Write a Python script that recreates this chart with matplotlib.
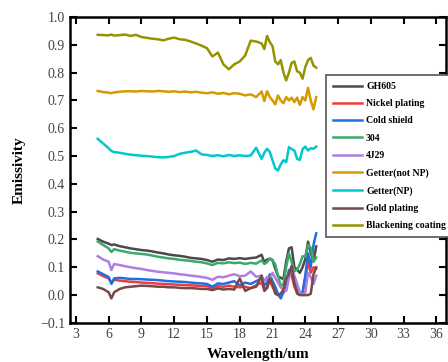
import matplotlib
matplotlib.use("Agg")
import matplotlib.pyplot as plt

# wavelength grid (um), denser where the spectra get noisy
wl = [5.0, 5.5, 6.0, 6.25, 6.5, 7.0, 7.5, 8.0, 8.5, 9.0, 9.5, 10.0, 10.5, 11.0,
      11.5, 12.0, 12.5, 13.0, 13.5, 14.0, 14.5, 15.0, 15.5, 16.0, 16.5, 17.0,
      17.5, 18.0, 18.5, 19.0, 19.5, 20.0, 20.25, 20.5, 20.75, 21.0, 21.25, 21.5,
      21.75, 22.0, 22.25, 22.5, 22.75, 23.0, 23.25, 23.5, 23.75, 24.0, 24.25,
      24.5, 24.75, 25.0]

gh605 = [.202, .192, .185, .180, .182, .176, .172, .168, .165, .162, .160, .157, .153, .150,
         .146, .143, .141, .138, .134, .132, .130, .126, .120, .128, .126, .132,
         .130, .133, .130, .133, .135, .145, .118, .128, .130, .126, .095, .068,
         .062, .058, .120, .168, .172, .100, .092, .080, .100, .130, .192,
         .150, .122, .175]
nickel = [.078, .068, .060, .045, .055, .052, .050, .048, .047, .045, .044, .043, .041, .040,
          .039, .038, .037, .036, .035, .034, .033, .032, .025, .032, .030, .034,
          .030, .028, .030, .025, .035, .045, .020, .030, .050, .030, .010, .000,
          .005, .010, .020, .080, .070, .030, .010, .002, .005, .060, .120,
          .080, .100, .095]
cold_shield = [.085, .075, .065, .040, .060, .062, .060, .058, .058, .057, .056, .055, .054, .052,
               .050, .049, .048, .047, .045, .043, .042, .040, .030, .042, .040, .045,
               .050, .035, .045, .040, .050, .060, .035, .045, .075, .050, .030, .005,
               -.012, .010, .040, .090, .085, .050, .020, .005, .010, .070, .150,
               .100, .180, .222]
ss304 = [.193, .180, .168, .155, .165, .160, .156, .152, .150, .148, .146, .142, .138, .135,
         .132, .130, .127, .125, .123, .120, .118, .114, .108, .116, .114, .118,
         .115, .117, .112, .116, .113, .125, .112, .118, .132, .126, .110, .070,
         .032, .040, .100, .150, .120, .085, .092, .110, .140, .138, .180,
         .170, .120, .135]
j29 = [.140, .128, .120, .090, .112, .108, .104, .100, .097, .094, .090, .087, .084, .082,
       .080, .078, .075, .073, .070, .068, .065, .062, .055, .066, .064, .070,
       .075, .068, .070, .085, .066, .070, .050, .065, .058, .080, .062, .045,
       .028, .020, .015, .060, .095, .070, .040, .010, .000, .010, .080,
       .065, .040, .070]
getter_not_np = [.734, .730, .728, .726, .729, .731, .733, .733, .732, .734, .733, .732, .734, .733,
                 .731, .733, .730, .732, .729, .731, .728, .726, .729, .724, .727, .722,
                 .726, .724, .718, .722, .712, .732, .698, .733, .712, .700, .686, .718,
                 .700, .690, .712, .700, .710, .694, .710, .684, .712, .700, .745,
                 .700, .668, .712]
getter_np = [.562, .545, .528, .518, .514, .512, .508, .505, .503, .501, .500, .498, .496, .495,
             .497, .500, .508, .512, .515, .520, .506, .504, .500, .503, .499, .504,
             .500, .503, .500, .502, .530, .490, .512, .526, .515, .485, .455, .448,
             .470, .485, .478, .532, .525, .520, .490, .486, .525, .534, .520,
             .528, .526, .534]
gold = [.028, .022, .010, -.012, .010, .022, .028, .030, .032, .034, .033, .032, .030, .030,
        .028, .028, .026, .025, .025, .024, .022, .022, .018, .024, .020, .022,
        .020, .060, .015, .025, .030, .070, .015, .025, .060, .040, .005, .000,
        .005, .020, .060, .075, .105, .040, .005, .000, .000, .000, .000,
        .005, .075, .100]
blackening = [.936, .935, .934, .937, .933, .935, .937, .932, .936, .928, .925, .922, .920, .916,
              .922, .926, .920, .918, .912, .905, .897, .888, .858, .872, .830, .812,
              .830, .840, .862, .915, .912, .905, .885, .932, .910, .895, .840, .830,
              .845, .800, .772, .800, .835, .840, .805, .800, .778, .820, .845,
              .853, .825, .818]

series = [
    ("GH605", gh605, "#4a4a4a"),
    ("Nickel plating", nickel, "#f23c3c"),
    ("Cold shield", cold_shield, "#1f6fe0"),
    ("304", ss304, "#3aaa6a"),
    ("4J29", j29, "#b07ee0"),
    ("Getter(not NP)", getter_not_np, "#d49a00"),
    ("Getter(NP)", getter_np, "#00c8cc"),
    ("Gold plating", gold, "#7a4848"),
    ("Blackening coating", blackening, "#949400"),
]

plt.rcParams['font.family'] = ['Liberation Serif', 'DejaVu Serif']

fig = plt.figure(figsize=(4.48, 3.62), dpi=100)
ax = fig.add_axes([0.156, 0.108, 0.84, 0.845])

for name, vals, col in series:
    ax.plot(wl, vals, color=col, lw=1.8, label=name)

ax.set_xlim(2.45, 36.9)
ax.set_ylim(-0.1, 1.0)
ax.set_xticks([3, 6, 9, 12, 15, 18, 21, 24, 27, 30, 33, 36])
ax.set_yticks([-0.1, 0.0, 0.1, 0.2, 0.3, 0.4, 0.5, 0.6, 0.7, 0.8, 0.9, 1.0])
ax.set_yticklabels(["\u22120.1"] + ["%.1f" % v for v in [0.0, 0.1, 0.2, 0.3, 0.4, 0.5, 0.6, 0.7, 0.8, 0.9, 1.0]])
ax.tick_params(direction='in', top=True, right=True, length=5, width=1.5,
               labelsize=10, labelcolor='#444444')
for sp in ax.spines.values():
    sp.set_linewidth(1.8)

ax.set_xlabel("Wavelength/um", fontsize=11, fontweight='bold', labelpad=5)
ax.set_ylabel("Emissivity", fontsize=11, fontweight='bold', labelpad=10)

leg = ax.legend(loc='upper left', bbox_to_anchor=(0.681, 0.81), borderaxespad=0,
                fancybox=False, edgecolor='#555555', framealpha=1,
                prop={'weight': 'bold', 'size': 7}, handlelength=3.0,
                labelspacing=0.85, borderpad=0.7, handletextpad=0.4)
leg.get_frame().set_linewidth(1.2)

fig.savefig("out.png", dpi=100)
